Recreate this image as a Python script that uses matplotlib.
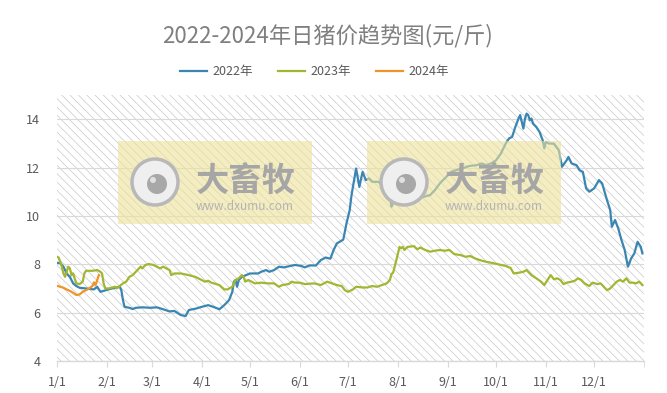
import matplotlib
matplotlib.use('Agg')
import matplotlib.pyplot as plt
from matplotlib.patches import Rectangle, Ellipse

plt.rcParams['font.family'] = ['Noto Sans CJK SC', 'DejaVu Sans']
plt.rcParams['hatch.linewidth'] = 0.5

# day of year (0 = Jan 1) and price in yuan/jin
days_2022 = [0, 2, 4, 6, 8, 10, 12, 14, 18, 23, 25, 27, 29, 33, 37, 39, 40, 41, 42, 45,
             47, 49, 53, 58, 62, 66, 70, 73, 77, 80, 82, 86, 90, 94, 98, 101, 104, 107, 109, 110,
             111, 112, 113, 115, 120, 125, 127, 130, 132, 135, 138, 141, 145, 148, 152, 154, 157, 161, 164, 167,
             170, 172, 174, 178, 180, 182, 183, 184, 186, 188, 190, 192, 194, 196, 200, 205, 207, 208, 209, 211,
             214, 217, 219, 222, 225, 228, 232, 235, 238, 240, 242, 245, 248, 252, 256, 261, 264, 267, 270, 273,
             276, 279, 281, 283, 285, 287, 288, 290, 291, 292, 293, 294, 295, 296, 298, 300, 302, 303, 304, 306,
             309, 312, 314, 317, 318, 320, 323, 325, 327, 329, 331, 334, 337, 339, 342, 344, 345, 347, 349, 351,
             353, 355, 357, 359, 361, 363, 364]
price_2022 = [8.06, 8.05, 7.90, 7.62, 7.48, 7.21, 7.10, 7.03, 7.00, 6.96, 7.07, 6.86, 6.90, 6.98, 7.04, 7.07, 6.93, 6.52, 6.24, 6.20,
              6.15, 6.20, 6.22, 6.20, 6.22, 6.14, 6.05, 6.07, 5.90, 5.86, 6.11, 6.16, 6.24, 6.31, 6.22, 6.14, 6.31, 6.52, 6.86, 7.28,
              7.35, 7.07, 7.35, 7.48, 7.62, 7.62, 7.69, 7.76, 7.69, 7.76, 7.90, 7.87, 7.93, 7.97, 7.93, 7.87, 7.95, 7.95, 8.17, 8.28,
              8.23, 8.59, 8.86, 9.02, 9.69, 10.24, 10.79, 11.20, 11.96, 11.20, 11.82, 11.48, 11.55, 11.41, 11.41, 11.00, 10.79, 10.38, 10.51, 10.86,
              10.93, 10.79, 10.72, 10.65, 10.72, 10.79, 10.86, 11.07, 11.34, 11.48, 11.61, 11.82, 11.89, 11.96, 12.06, 12.10, 12.17, 12.10, 12.17, 12.30,
              12.58, 12.99, 13.20, 13.27, 13.68, 14.03, 14.17, 13.61, 14.03, 14.23, 14.17, 13.96, 14.03, 13.82, 13.68, 13.48, 13.13, 12.79, 13.06, 12.99,
              12.99, 12.72, 12.03, 12.31, 12.44, 12.17, 12.10, 11.89, 11.82, 11.14, 11.00, 11.14, 11.48, 11.34, 10.65, 10.24, 9.55, 9.83, 9.48, 9.00,
              8.59, 7.90, 8.24, 8.45, 8.93, 8.72, 8.45]

days_2023 = [0, 1, 2, 3, 4, 5, 6, 7, 8, 9, 10, 11, 12, 14, 16, 17, 18, 22, 25, 27,
             28, 29, 30, 32, 34, 36, 37, 39, 41, 43, 45, 47, 50, 52, 53, 55, 57, 60, 62, 64,
             66, 68, 70, 71, 73, 77, 82, 86, 90, 92, 94, 96, 99, 101, 104, 106, 109, 111, 113, 115,
             116, 117, 119, 121, 123, 127, 131, 135, 138, 140, 144, 146, 148, 151, 154, 160, 164, 168, 171, 174,
             177, 179, 181, 184, 186, 190, 193, 196, 199, 202, 205, 207, 208, 209, 211, 213, 214, 215, 216, 218,
             222, 224, 226, 229, 232, 235, 238, 241, 244, 247, 251, 254, 257, 260, 263, 267, 271, 275, 279, 282,
             284, 287, 290, 292, 295, 298, 301, 303, 305, 307, 309, 311, 313, 315, 317, 320, 322, 324, 326, 328,
             331, 333, 336, 338, 340, 342, 344, 346, 348, 350, 352, 354, 356, 358, 360, 362, 364]
price_2023 = [8.31, 8.28, 8.10, 7.90, 7.62, 7.48, 7.69, 7.90, 7.83, 7.55, 7.62, 7.42, 7.21, 7.18, 7.28, 7.62, 7.73, 7.73, 7.76, 7.69,
              7.62, 7.21, 7.00, 7.00, 7.03, 7.07, 7.00, 7.10, 7.21, 7.28, 7.48, 7.55, 7.76, 7.90, 7.83, 7.97, 8.01, 7.97, 7.90, 7.83,
              7.90, 7.83, 7.76, 7.55, 7.62, 7.62, 7.55, 7.48, 7.35, 7.28, 7.32, 7.24, 7.18, 7.14, 6.96, 6.96, 7.07, 7.35, 7.42, 7.55,
              7.48, 7.28, 7.35, 7.28, 7.21, 7.24, 7.21, 7.21, 7.07, 7.14, 7.18, 7.28, 7.24, 7.24, 7.18, 7.21, 7.14, 7.28, 7.21, 7.14,
              7.10, 6.93, 6.86, 6.96, 7.07, 7.04, 7.04, 7.10, 7.07, 7.14, 7.21, 7.35, 7.60, 7.65, 8.17, 8.72, 8.66, 8.72, 8.59, 8.72,
              8.75, 8.62, 8.69, 8.59, 8.52, 8.56, 8.59, 8.56, 8.59, 8.42, 8.38, 8.31, 8.34, 8.24, 8.17, 8.10, 8.05, 7.99, 7.93, 7.85,
              7.62, 7.65, 7.69, 7.76, 7.55, 7.42, 7.28, 7.14, 7.35, 7.55, 7.38, 7.42, 7.35, 7.18, 7.24, 7.28, 7.32, 7.42, 7.35, 7.21,
              7.10, 7.24, 7.18, 7.21, 7.07, 6.93, 7.00, 7.14, 7.28, 7.35, 7.28, 7.42, 7.24, 7.24, 7.21, 7.28, 7.14]

days_2024 = [0, 2, 4, 6, 8, 10, 12, 14, 16, 18, 20, 22, 23, 24, 25, 26]
price_2024 = [7.11, 7.07, 7.03, 6.96, 6.90, 6.82, 6.73, 6.75, 6.86, 6.93, 7.00, 7.10, 7.25, 7.14, 7.35, 7.55]

month_starts = [0, 31, 59, 90, 120, 151, 181, 212, 243, 273, 304, 334]
month_labels = ['1/1', '2/1', '3/1', '4/1', '5/1', '6/1', '7/1', '8/1', '9/1', '10/1', '11/1', '12/1']

W, H = 667, 393
fig = plt.figure(figsize=(W / 100, H / 100), dpi=100)
ax = fig.add_axes([57 / W, 1 - 361 / H, 587 / W, 266 / H])

# hatched plot background
ax.add_patch(Rectangle((0, 0), 1, 1, transform=ax.transAxes, facecolor='white',
                       edgecolor='#c8c8c8', lw=0, hatch='\\\\\\\\', zorder=0))

ax.plot(days_2022, price_2022, color='#3a86b2', lw=1.6, label='2022年', zorder=3)
ax.plot(days_2023, price_2023, color='#a3b631', lw=1.6, label='2023年', zorder=3)
ax.plot(days_2024, price_2024, color='#ef9428', lw=1.6, label='2024年', zorder=3)

ax.set_xlim(0, 365)
ax.set_ylim(4, 15)
ax.set_yticks([4, 6, 8, 10, 12, 14])
ax.set_xticks(month_starts)
ax.set_xticklabels(month_labels)
ax.set_xticks([365], minor=True)
ax.yaxis.grid(True, color='#d9d9d9', lw=0.8, zorder=1)
ax.set_axisbelow(True)
for s in ['left', 'right', 'top']:
    ax.spines[s].set_visible(False)
ax.spines['bottom'].set_color('#d9d9d9')
ax.spines['bottom'].set_linewidth(1)
ax.tick_params(axis='y', length=0, pad=12, labelsize=9, labelcolor='#595959')
ax.tick_params(axis='x', which='both', length=4, color='#d9d9d9', pad=7, labelsize=9, labelcolor='#595959')


def fx(px):
    return px / W


def fy(py):
    return 1 - py / H


# watermarks
for x0 in [118, 367]:
    ax.add_patch(Rectangle((fx(x0), fy(224)), 194 / W, 83 / H, transform=fig.transFigure,
                           facecolor='#eee29a', edgecolor='none', alpha=0.6, zorder=5, clip_on=False))
    ax.add_patch(Ellipse((fx(x0 + 37), fy(182)), 46 / W, 46 / H, transform=fig.transFigure,
                         facecolor='#efefef', edgecolor='#b8b8b8', lw=2.5, zorder=6, clip_on=False))
    ax.add_patch(Ellipse((fx(x0 + 39), fy(184)), 20 / W, 20 / H, transform=fig.transFigure,
                         facecolor='#a8a8a8', edgecolor='none', zorder=7, clip_on=False))
    ax.add_patch(Ellipse((fx(x0 + 35), fy(180)), 6 / W, 6 / H, transform=fig.transFigure,
                         facecolor='#e0e0e0', edgecolor='none', zorder=8, clip_on=False))
    fig.text(fx(x0 + 128), fy(181), '大畜牧', fontsize=24, fontweight='bold', color='#a6a6a6',
             ha='center', va='center', zorder=9)
    fig.text(fx(x0 + 127), fy(206), 'www.dxumu.com', fontsize=8.5, color='#b3b3b3',
             ha='center', va='center', zorder=9)

fig.text(fx(327), fy(36), '2022-2024年日猪价趋势图(元/斤)', fontsize=16, color='#7f7f7f',
         ha='center', va='center')
fig.legend(loc='center', bbox_to_anchor=(fx(314), fy(72)), ncol=3, frameon=False,
           fontsize=9, labelcolor='#595959', handlelength=2.2, handletextpad=0.4, columnspacing=2.0)

fig.savefig('out.png', dpi=100)
